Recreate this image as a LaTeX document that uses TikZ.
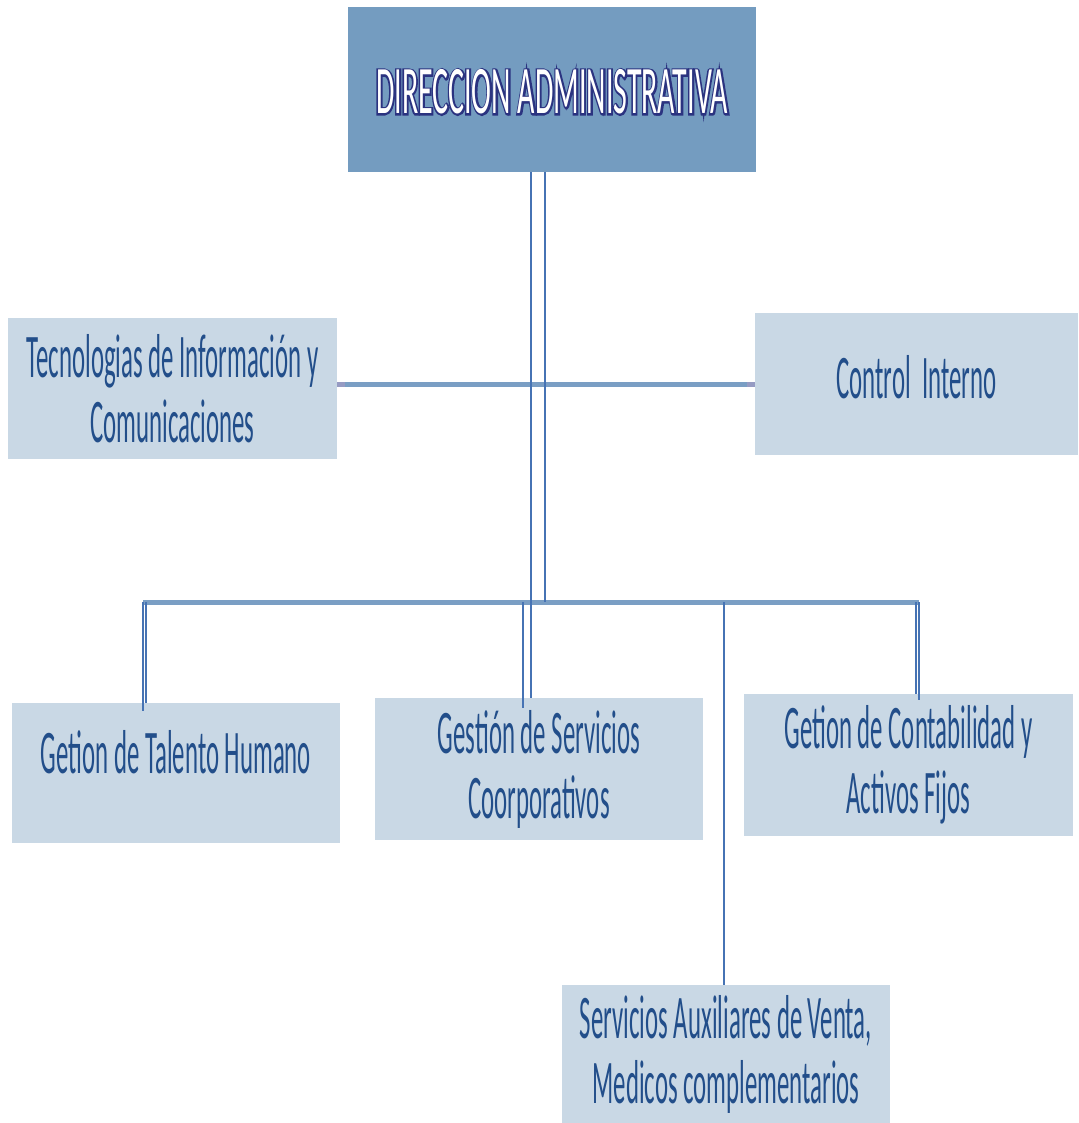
\documentclass[tikz,border=0pt]{standalone}
\usepackage{fontspec}
\newfontfamily\bodyfont[FakeStretch=0.40]{Carlito}
\newfontfamily\titlefont[FakeStretch=0.44]{Carlito}
\definecolor{topfill}{RGB}{116,156,192}
\definecolor{boxfill}{RGB}{201,216,229}
\definecolor{txtblue}{RGB}{34,78,138}
\definecolor{barblue}{RGB}{122,158,196}
\definecolor{barend}{RGB}{150,155,195}
\definecolor{lineblue}{RGB}{70,115,180}
\newcommand\outlinetext[1]{\rlap{\special{pdf:literal direct 0.17 0.2 0.5 RG 0.17 0.2 0.5 rg 3.4 w 2 Tr}#1\special{pdf:literal direct 0 Tr 1 1 1 rg}}#1}
\tikzset{
  box/.style={fill=boxfill, inner sep=0pt, align=center, text=txtblue,
    font=\bodyfont\fontsize{62}{65}\selectfont},
  topbox/.style={fill=topfill, inner sep=0pt},
  bar/.style={draw=barblue, line width=5pt},
  conn/.style={draw=lineblue, line width=2.2pt},
  ttl/.style={inner sep=0pt, font=\titlefont\fontsize{68}{70}\selectfont}
}
\begin{document}
\begin{tikzpicture}[x=1pt,y=-1pt]
\useasboundingbox (0,0) rectangle (1078,1123);
% boxes
\node[topbox, minimum width=408pt, minimum height=165pt] (top) at (552,89.5) {};
\node[box, minimum width=329pt, minimum height=141pt] (tic) at (172.5,388.5) {Tecnologias de Información y\\Comunicaciones};
\node[box, minimum width=323pt, minimum height=142pt, text depth=14pt] (ctrl) at (916.5,384) {Control\ \ Interno};
\node[box, minimum width=328pt, minimum height=140pt, text depth=42pt] (tal) at (176,773) {Getion de Talento Humano};
\node[box, minimum width=328pt, minimum height=142pt] (srv) at (539,769) {Gestión de Servicios\\Coorporativos};
\node[box, minimum width=329pt, minimum height=142pt] (cont) at (908.5,765) {Getion de Contabilidad y\\Activos Fijos};
\node[box, minimum width=328pt, minimum height=138pt] (aux) at (726,1054) {Servicios Auxiliares de Venta,\\Medicos complementarios};
% title with outline
\node[ttl, text=white] (title) at (552,92) {\outlinetext{DIRECCION ADMINISTRATIVA}};
% connectors
\coordinate (busL) at (143,602);
\coordinate (busR) at (919,602);
\draw[bar] (tic.east |- ctrl.west) -- (ctrl.west);
\draw[draw=barend, line width=5pt] (tic.east |- ctrl.west) -- ++(8,0);
\draw[draw=barend, line width=5pt] (ctrl.west) -- ++(-8,0);
\draw[bar] (busL) -- (busR);
\draw[conn] ([xshift=-21pt]top.south) -- ([xshift=-8pt]srv.north);
\draw[conn] ([xshift=-7pt]top.south) -- ([xshift=-7pt]top.south |- busL);
\draw[conn] (busL) -- ([yshift=-8pt]busL |- tal.north);
\draw[conn] ([xshift=3pt]busL) -- ([xshift=3pt]busL |- tal.north);
\draw[conn] ([xshift=-16pt]srv.north |- busL) -- ([xshift=-16pt,yshift=-10pt]srv.north);
\draw[conn] ([xshift=-2pt]aux.north |- busL) -- ([xshift=-2pt]aux.north);
\draw[conn] (busR) -- ([yshift=-6pt]busR |- cont.north);
\draw[conn] ([xshift=-3pt]busR) -- ([xshift=-3pt]busR |- cont.north);
\end{tikzpicture}
\end{document}
